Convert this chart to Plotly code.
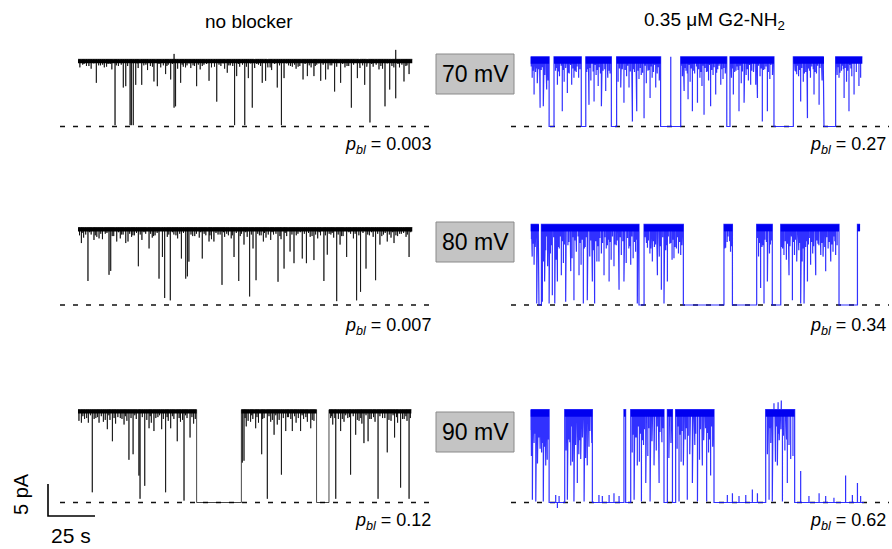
import plotly.graph_objects as go

W, H = 892, 549

# ======================= DATA =======================
voltages = ["70 mV", "80 mV", "90 mV"]
pbl_no_blocker = ["0.003", "0.007", "0.12"]
pbl_g2 = ["0.27", "0.34", "0.62"]
amp_no_blocker = [10.5, 12.1, 14.5]     # unitary current, pA
amp_g2 = [10.9, 12.6, 14.5]             # pA
dur_no_blocker = [177.8, 177.8, 177.3]  # s
dur_g2 = [176.4, 175.2, 177.3]          # s

# ---- no blocker, 70 mV ----
nb70_blocked = []
nb70_spike_t = [9.75, 19.7, 24.1, 25.4, 27.7, 28.4, 29.4, 30.7, 33.9, 40.4, 42.2, 46.6, 49.3, 51.1,
                51.9, 54.6, 63.1, 69.7, 73.8, 79.4, 83.3, 84.4, 88.7, 90.6, 92.7, 98.0, 99.8, 106.0,
                108.2, 109.6, 119.7, 122.0, 125.5, 129.1, 131.7, 136.5, 139.7, 145.4, 148.6, 152.5,
                155.3, 160.1, 163.3, 165.8, 169.0, 173.4, 176.1]
nb70_spike_d = [0.35, 0.98, 0.42, 0.40, 0.98, 0.98, 0.98, 0.38, 0.38, 0.33, 0.40, 0.22, 0.30, 0.72,
                0.70, 0.35, 0.40, 0.32, 0.63, 0.20, 0.98, 0.25, 0.98, 0.28, 0.72, 0.35, 0.32, 0.42,
                0.98, 0.28, 0.30, 0.25, 0.25, 0.32, 0.30, 0.48, 0.35, 0.72, 0.28, 0.38,
                0.94, 0.15, 0.70, 0.45, 0.58, 0.33, 0.22]
nb70_flick_t = [1.0, 2.5, 4.5, 7.0, 12.0, 14.0, 16.0, 18.0, 21.5, 23.0, 32.0, 35.0, 37.0, 38.5,
                44.0, 48.0, 53.0, 56.0, 58.0, 60.0, 62.0, 65.0, 67.0, 71.0, 76.0, 78.0, 81.0, 86.0,
                94.0, 96.0, 101.0, 103.0, 112.0, 114.0, 116.0, 118.0, 124.0, 127.0, 133.0, 135.0,
                142.0, 144.0, 150.0, 154.0, 157.0, 162.0, 167.0, 171.0, 175.0,
                3.2, 5.8, 8.4, 11.0, 13.1, 15.2, 17.1, 20.4, 26.4, 31.5, 36.1, 39.6, 43.1, 45.4,
                47.3, 50.2, 55.4, 57.2, 59.1, 61.2, 64.0, 66.1, 68.4, 72.6, 75.0, 77.2, 80.2, 82.3,
                85.3, 87.5, 89.6, 91.8, 93.6, 95.1, 97.1, 100.6, 102.2, 104.6, 107.2, 111.0, 113.0,
                115.2, 117.1, 120.8, 123.0, 126.2, 128.1, 130.4, 134.1, 137.6, 140.8, 143.1, 146.6,
                149.6, 151.4, 153.6, 156.2, 158.6, 161.1, 164.5, 166.8, 168.0, 170.2, 172.3, 174.4]
nb70_flick_d = [0.12, 0.08, 0.10, 0.14, 0.09, 0.12, 0.07, 0.15, 0.10, 0.08, 0.13, 0.09, 0.16, 0.10,
                0.12, 0.08, 0.14, 0.11, 0.09, 0.13, 0.10, 0.15, 0.08, 0.12, 0.10, 0.14, 0.09, 0.11,
                0.13, 0.08, 0.12, 0.16, 0.09, 0.11, 0.14, 0.10, 0.12, 0.08, 0.15, 0.09,
                0.12, 0.10, 0.13, 0.09, 0.11, 0.14, 0.10, 0.12, 0.09,
                0.07, 0.10, 0.06, 0.09, 0.08, 0.11, 0.07, 0.09, 0.10, 0.06, 0.08, 0.11, 0.07, 0.09,
                0.10, 0.07, 0.08, 0.12, 0.06, 0.09, 0.08, 0.10, 0.07, 0.11, 0.08, 0.06, 0.09, 0.10,
                0.07, 0.08, 0.11, 0.06, 0.09, 0.07, 0.10, 0.08, 0.12, 0.07, 0.09, 0.06, 0.10,
                0.08, 0.11, 0.07, 0.09, 0.10, 0.06, 0.08, 0.09, 0.11, 0.07, 0.10, 0.08,
                0.06, 0.09, 0.11, 0.07, 0.08, 0.10, 0.06, 0.09, 0.12, 0.07, 0.08, 0.10]
nb70_up_t = [51.1, 169.0]
nb70_up_h = [0.08, 0.14]

# ---- no blocker, 80 mV ----
nb80_blocked = []
nb80_spike_t = [1.8, 5.3, 8.5, 11.2, 16.5, 17.4, 20.6, 25.4, 26.6, 32.1, 37.8, 43.1, 44.9, 46.1,
                49.1, 55.0, 57.3, 58.2, 59.0, 66.1, 69.7, 72.3, 76.6, 83.0, 85.5, 88.3, 91.3, 93.1,
                94.7, 98.6, 102.5, 106.4, 109.6, 112.8, 114.9, 119.3, 121.5, 125.5, 130.8, 132.6,
                137.6, 139.4, 142.9, 148.2, 150.3, 153.2, 158.3, 160.6, 164.5, 168.1, 176.1]
nb80_spike_d = [0.20, 0.69, 0.16, 0.14, 0.61, 0.56, 0.18, 0.20, 0.18, 0.50, 0.27, 0.66, 0.38, 0.91,
                0.94, 0.40, 0.66, 0.63, 0.44, 0.40, 0.18, 0.18, 0.74, 0.38, 0.69, 0.22, 0.89, 0.27,
                0.68, 0.18, 0.16, 0.70, 0.53, 0.31, 0.46, 0.40, 0.46, 0.42, 0.69, 0.35,
                0.95, 0.22, 0.38, 0.94, 0.83, 0.53, 0.68, 0.22, 0.18, 0.20, 0.38]
nb80_flick_t = [0.8, 3.0, 7.0, 10.0, 13.0, 14.5, 19.0, 22.5, 24.0, 28.5, 30.0, 34.0, 36.0, 39.5,
                41.0, 47.5, 51.0, 53.0, 61.0, 63.0, 64.5, 68.0, 71.0, 74.5, 78.0, 80.0, 81.5, 87.0,
                90.0, 96.5, 100.0, 104.0, 108.0, 111.0, 117.0, 123.5, 127.5, 129.0, 134.5, 136.0,
                141.0, 145.0, 146.5, 155.0, 157.0, 162.5, 166.5, 170.0, 172.0, 174.5,
                2.2, 4.1, 6.2, 9.2, 12.1, 15.4, 18.2, 21.6, 23.2, 27.5, 29.2, 31.1, 33.1, 35.1,
                38.6, 40.2, 42.1, 48.3, 50.2, 52.1, 54.1, 56.1, 60.1, 62.1, 65.3, 67.1, 70.2, 73.4,
                75.6, 77.4, 79.1, 82.1, 84.2, 86.3, 89.2, 92.2, 95.6, 97.4, 99.2, 101.2, 103.2,
                105.3, 107.4, 110.2, 113.8, 116.1, 118.2, 120.4, 122.6, 124.5, 126.4, 128.3, 131.6,
                133.6, 135.2, 138.4, 140.2, 144.1, 147.4, 149.4, 151.6, 154.1, 156.1, 159.4, 161.6,
                163.4, 165.6, 167.4, 169.1, 171.1, 173.2, 175.2, 177.0]
nb80_flick_d = [0.10, 0.13, 0.09, 0.12, 0.15, 0.08, 0.11, 0.14, 0.09, 0.12, 0.10, 0.16, 0.08, 0.13,
                0.10, 0.12, 0.09, 0.14, 0.11, 0.08, 0.13, 0.10, 0.15, 0.09, 0.12, 0.10, 0.14, 0.08,
                0.12, 0.10, 0.13, 0.09, 0.15, 0.11, 0.08, 0.12, 0.14, 0.10, 0.09, 0.13,
                0.11, 0.08, 0.14, 0.10, 0.12, 0.09, 0.13, 0.11, 0.08, 0.12,
                0.07, 0.09, 0.06, 0.10, 0.08, 0.07, 0.11, 0.06, 0.09, 0.08, 0.10, 0.07, 0.09, 0.06,
                0.08, 0.11, 0.07, 0.09, 0.06, 0.10, 0.08, 0.07, 0.09, 0.11, 0.06, 0.08, 0.10, 0.07,
                0.09, 0.06, 0.08, 0.10, 0.07, 0.11, 0.06, 0.09, 0.08, 0.10, 0.07, 0.09, 0.06,
                0.08, 0.11, 0.07, 0.09, 0.10, 0.06, 0.08, 0.07, 0.11, 0.09, 0.06, 0.10,
                0.08, 0.07, 0.09, 0.11, 0.06, 0.08, 0.10, 0.07, 0.09, 0.06, 0.08, 0.11,
                0.07, 0.09, 0.06, 0.10, 0.08, 0.07, 0.09, 0.06]

# ---- no blocker, 90 mV ----
nb90_blocked = [(63.1, 86.9), (126.9, 133.5)]
nb90_spike_t = [1.8, 7.6, 11.2, 15.6, 18.3, 24.5, 27.1, 29.3, 32.4, 33.0, 35.5, 37.8, 40.4, 44.5,
                46.6, 49.3, 52.8, 56.4, 59.6, 87.4, 88.3, 91.8, 94.5, 97.7, 100.7, 104.3, 106.0,
                108.2, 110.5, 114.0, 118.4, 122.0, 123.8, 134.4, 137.1, 139.7, 145.0, 147.7, 152.1,
                154.3, 159.6, 164.5, 168.4, 171.6, 176.1]
nb90_spike_d = [0.14, 0.89, 0.14, 0.21, 0.34, 0.16, 0.54, 0.48, 0.71, 0.96, 0.82, 0.20, 0.23, 0.21,
                0.89, 0.20, 0.34, 0.98, 0.30, 0.57, 0.55, 0.13, 0.20, 0.48, 0.96, 0.27, 0.16,
                0.70, 0.23, 0.23, 0.23, 0.13, 0.20, 0.09, 0.96, 0.23, 0.70, 0.27, 0.36,
                0.34, 0.96, 0.46, 0.30, 0.84, 0.96]
nb90_flick_t = [0.5, 3.5, 5.5, 9.5, 13.5, 17.0, 20.0, 22.5, 26.0, 31.0, 39.0, 42.5, 48.0, 51.0,
                54.5, 58.0, 61.5, 89.5, 90.5, 93.0, 96.0, 99.0, 102.5, 107.0, 112.0, 116.0, 120.0,
                125.5, 135.5, 138.5, 141.5, 143.5, 149.5, 151.0, 156.0, 158.0, 162.0, 166.5, 170.0,
                173.5, 175.0,
                2.6, 4.6, 6.6, 8.6, 10.4, 12.4, 14.5, 16.4, 19.2, 21.2, 23.4, 25.2, 28.2, 30.2,
                34.2, 36.6, 38.4, 41.4, 43.4, 45.4, 47.4, 50.2, 53.8, 55.6, 57.2, 60.6, 62.4,
                88.9, 92.4, 95.2, 98.2, 101.6, 103.4, 105.2, 109.2, 111.4, 113.2, 115.2, 117.2,
                119.2, 121.2, 124.6, 134.9, 136.6, 140.6, 142.4, 144.4, 146.4, 148.6, 150.4,
                153.2, 155.2, 157.2, 160.6, 163.2, 165.4, 167.6, 169.4, 172.6, 174.4, 176.8]
nb90_flick_d = [0.12, 0.10, 0.14, 0.09, 0.13, 0.11, 0.15, 0.09, 0.12, 0.10, 0.14, 0.08, 0.12, 0.10,
                0.13, 0.09, 0.15, 0.18, 0.12, 0.10, 0.14, 0.09, 0.13, 0.11, 0.08, 0.14, 0.10,
                0.12, 0.16, 0.10, 0.13, 0.09, 0.12, 0.15, 0.10, 0.13, 0.09, 0.12, 0.14,
                0.10, 0.12,
                0.07, 0.09, 0.06, 0.10, 0.08, 0.07, 0.11, 0.06, 0.09, 0.08, 0.10, 0.07, 0.09, 0.06,
                0.08, 0.11, 0.07, 0.09, 0.06, 0.10, 0.08, 0.07, 0.09, 0.11, 0.06, 0.08, 0.10,
                0.09, 0.06, 0.08, 0.10, 0.07, 0.11, 0.06, 0.09, 0.08, 0.10, 0.07, 0.09, 0.06,
                0.08, 0.11, 0.07, 0.09, 0.10, 0.06, 0.08, 0.07, 0.11, 0.09, 0.06, 0.10,
                0.08, 0.07, 0.09, 0.11, 0.06, 0.08, 0.10, 0.07, 0.09, 0.06, 0.08]

# ---- G2-NH2, 70 mV ----
g70_blocked = [(9.8, 12.4), (26.9, 29.3), (42.9, 45.7), (69.1, 79.8), (104.3, 106.0),
               (129.4, 139.7), (156.0, 162.2)]
g70_spike_t = [1.8, 5.0, 6.7, 8.5, 14.2, 16.8, 19.5, 23.0, 31.0, 33.7, 37.6, 39.9, 47.9, 49.6,
               54.1, 56.4, 60.3, 63.5, 66.5, 81.6, 83.7, 86.0, 88.7, 92.2, 95.7, 98.4, 101.1,
               107.8, 110.8, 113.5, 117.0, 120.6, 123.2, 125.9, 141.5, 143.6, 147.2, 150.7,
               153.4, 164.0, 166.7, 169.3, 172.0, 174.6]
g70_spike_d = [0.54, 0.73, 0.71, 0.47, 0.40, 0.78, 0.52, 0.30, 0.69, 0.64, 0.71, 0.49, 0.44, 0.66,
               0.93, 0.78, 0.88, 0.59, 0.44, 0.49, 0.61, 0.78, 0.66, 0.83, 0.71, 0.54, 0.40,
               0.54, 0.78, 0.66, 0.40, 0.59, 0.93, 0.78, 0.25, 0.64, 0.88, 0.54,
               0.69, 0.30, 0.59, 0.78, 0.54, 0.42]
g70_flick_t = [0.8, 2.6, 3.5, 4.2, 7.5, 9.2, 13.2, 15.3, 17.8, 18.6, 20.5, 21.8, 24.2, 25.5, 30.2,
               32.0, 34.8, 35.9, 38.5, 41.0, 42.2, 46.5, 48.7, 51.0, 52.3, 55.2, 57.6, 58.8, 61.5,
               62.4, 64.6, 67.3, 68.4, 80.7, 82.6, 84.8, 87.2, 90.0, 91.1, 93.5, 94.6, 97.0, 99.5,
               102.3, 103.5, 106.8, 109.2, 112.0, 114.6, 115.8, 118.5, 119.7, 122.0, 124.5, 127.2,
               128.6, 140.6, 142.5, 145.0, 146.3, 148.8, 152.0, 155.0, 163.0, 165.3, 168.0, 170.8,
               173.2, 175.5,
               0.3, 1.3, 2.2, 3.0, 3.9, 4.7, 5.6, 6.2, 7.1, 8.1, 8.9, 13.7, 14.7, 16.2, 17.3, 19.0,
               20.0, 21.2, 22.5, 23.6, 24.7, 26.2, 29.8, 30.7, 31.5, 33.2, 34.3, 35.4, 36.4, 37.1,
               38.0, 39.4, 40.6, 41.7, 46.1, 47.2, 48.2, 49.1, 50.3, 51.6, 53.0, 53.7, 54.7, 56.0,
               57.1, 58.3, 59.5, 60.9, 62.0, 63.0, 64.0, 65.3, 66.0, 67.0, 67.8, 68.8, 80.3, 81.2,
               82.1, 83.3, 84.2, 85.4, 86.5, 88.2, 89.3, 90.6, 91.7, 92.8, 94.0, 95.2, 96.3, 97.6,
               98.9, 100.2, 101.6, 102.8, 103.9, 106.5, 107.3, 108.5, 109.8, 110.3, 111.4, 112.6,
               113.9, 115.2, 116.4, 117.6, 118.9, 120.2, 121.2, 122.6, 123.8, 125.2, 126.4, 127.8,
               128.9, 140.2, 141.0, 142.0, 143.1, 144.2, 145.6, 146.9, 147.7, 148.3, 149.5, 150.3,
               151.3, 152.6, 153.9, 154.6, 155.6, 162.7, 163.5, 164.5, 165.8, 166.3, 167.3, 168.6,
               169.8, 170.3, 171.4, 172.5, 173.7, 174.2, 175.0, 176.0]
g70_flick_d = [0.30, 0.22, 0.38, 0.18, 0.26, 0.34, 0.20, 0.28, 0.36, 0.16, 0.24, 0.40, 0.22, 0.30,
               0.18, 0.34, 0.26, 0.42, 0.20, 0.30, 0.24, 0.36, 0.18, 0.28, 0.44, 0.22, 0.32, 0.26,
               0.38, 0.20, 0.30, 0.24, 0.34, 0.28, 0.20, 0.36, 0.24, 0.30, 0.42, 0.22, 0.34, 0.26,
               0.18, 0.32, 0.24, 0.30, 0.20, 0.38, 0.26, 0.34, 0.22, 0.40, 0.28, 0.18, 0.32, 0.26,
               0.20, 0.28, 0.36, 0.22, 0.30, 0.24, 0.34, 0.26, 0.20, 0.36, 0.28, 0.22, 0.30,
               0.14, 0.20, 0.12, 0.17, 0.22, 0.13, 0.19, 0.15, 0.24, 0.12, 0.18, 0.16, 0.21, 0.13,
               0.19, 0.15, 0.23, 0.12, 0.17, 0.20, 0.14, 0.18, 0.22, 0.13, 0.16, 0.21, 0.12, 0.19,
               0.15, 0.24, 0.13, 0.18, 0.16, 0.20, 0.12, 0.17, 0.22, 0.14, 0.19, 0.13, 0.21, 0.15,
               0.18, 0.12, 0.20, 0.16, 0.23, 0.13, 0.17, 0.19, 0.14, 0.22, 0.12, 0.18, 0.15, 0.21,
               0.13, 0.19, 0.16, 0.24, 0.12, 0.17, 0.20, 0.14, 0.18, 0.22, 0.13, 0.16, 0.21, 0.12,
               0.19, 0.15, 0.23, 0.13, 0.18, 0.16, 0.20, 0.12, 0.17, 0.22, 0.14, 0.19, 0.13, 0.21,
               0.15, 0.18, 0.12, 0.20, 0.16, 0.23, 0.13, 0.17, 0.19, 0.14, 0.22, 0.12, 0.18, 0.15,
               0.21, 0.13, 0.19, 0.16, 0.24, 0.12, 0.17, 0.20, 0.14, 0.18, 0.22, 0.13, 0.16, 0.21,
               0.12, 0.19, 0.15, 0.23, 0.13, 0.18, 0.16, 0.20, 0.12, 0.17]
g70_blip_t = [74.5]
g70_blip_h = [1.0]

# ---- G2-NH2, 80 mV ----
g80_blocked = [(4.4, 5.7), (57.6, 60.3), (81.2, 102.8), (107.3, 120.2), (128.5, 133.0),
               (164.0, 173.8)]
g80_spike_t = [1.8, 3.2, 6.2, 7.4, 9.8, 11.5, 12.8, 14.2, 16.3, 18.6, 21.3, 23.0, 25.7, 28.0,
               30.1, 32.8, 34.0, 36.3, 39.0, 41.7, 44.3, 47.0, 49.6, 53.2, 56.7, 62.1, 64.7,
               67.4, 69.5, 70.9, 72.7, 76.2, 79.8, 103.7, 122.3, 124.1, 125.9, 134.7, 137.4,
               139.2, 141.5, 143.6, 145.4, 147.2, 148.9, 151.6, 154.3, 156.9, 159.6, 162.2]
g80_spike_d = [0.50, 0.98, 0.96, 0.71, 0.98, 0.88, 0.98, 0.71, 0.63, 0.96, 0.58, 0.94, 0.63, 0.98,
               0.94, 0.71, 0.98, 0.46, 0.63, 0.71, 0.52, 0.81, 0.71, 0.50, 0.98, 0.29, 0.46,
               0.63, 0.81, 0.98, 0.71, 0.42, 0.38, 0.29, 0.79, 0.98, 0.71, 0.38, 0.63,
               0.94, 0.46, 0.98, 0.98, 0.71, 0.50, 0.63, 0.38, 0.58, 0.46, 0.38]
g80_flick_t = [0.8, 2.4, 6.8, 8.0, 9.0, 10.5, 13.5, 15.2, 17.4, 19.8, 22.0, 24.3, 26.8, 29.0,
               31.4, 33.3, 35.2, 37.6, 40.2, 42.8, 45.5, 48.2, 50.8, 52.2, 54.5, 55.8, 61.2, 63.4,
               65.8, 68.4, 71.8, 74.0, 75.2, 77.5, 78.6, 80.4, 103.2, 104.5, 106.3, 121.2, 123.0,
               127.0, 134.0, 136.0, 138.2, 140.3, 142.6, 144.4, 146.3, 150.0, 152.8, 155.5, 158.2,
               160.8, 163.0,
               0.4, 1.2, 2.0, 2.8, 3.6, 4.0, 6.3, 7.0, 7.8, 8.5, 9.4, 10.1, 11.0, 12.2, 13.1, 14.0,
               14.8, 15.7, 16.8, 17.9, 18.9, 20.3, 21.0, 22.5, 23.5, 24.0, 25.2, 26.2, 27.4, 28.5,
               29.5, 30.5, 31.9, 32.4, 33.8, 34.6, 35.7, 36.8, 38.2, 39.5, 40.8, 41.3, 42.2, 43.5,
               44.8, 46.0, 46.6, 47.6, 49.0, 50.0, 51.5, 52.8, 53.8, 55.2, 56.3, 57.1, 60.8, 61.6,
               62.6, 63.9, 64.3, 65.2, 66.4, 67.0, 68.0, 68.9, 70.2, 71.3, 72.2, 73.2, 74.5, 75.8,
               76.8, 78.1, 79.2, 80.8, 103.5, 105.0, 105.8, 106.8, 120.8, 121.7, 122.7, 123.6,
               124.6, 125.4, 126.2, 127.5, 128.0, 133.5, 134.4, 135.4, 136.5, 137.0, 137.9, 138.7,
               139.8, 140.8, 141.8, 142.2, 143.1, 144.0, 144.9, 145.8, 146.8, 147.7, 148.4, 149.4,
               150.5, 151.2, 152.2, 153.3, 154.0, 154.9, 155.9, 156.4, 157.5, 158.8, 159.2, 160.2,
               161.3, 161.8, 162.7, 163.5, 174.3]
g80_flick_d = [0.40, 0.28, 0.46, 0.32, 0.52, 0.36, 0.44, 0.30, 0.48, 0.26, 0.42, 0.34, 0.50, 0.28,
               0.40, 0.32, 0.46, 0.36, 0.30, 0.44, 0.26, 0.38, 0.48, 0.30, 0.42, 0.34, 0.22, 0.36,
               0.28, 0.40, 0.32, 0.24, 0.44, 0.30, 0.36, 0.26, 0.30, 0.22, 0.34, 0.40, 0.28,
               0.36, 0.30, 0.44, 0.26, 0.38, 0.32, 0.46, 0.28, 0.36, 0.24, 0.40, 0.30, 0.34, 0.26,
               0.18, 0.24, 0.15, 0.21, 0.27, 0.16, 0.23, 0.19, 0.30, 0.15, 0.22, 0.20, 0.26, 0.16,
               0.24, 0.18, 0.28, 0.15, 0.21, 0.25, 0.17, 0.22, 0.27, 0.16, 0.20, 0.26, 0.15, 0.23,
               0.19, 0.30, 0.16, 0.22, 0.20, 0.25, 0.15, 0.21, 0.27, 0.17, 0.23, 0.16, 0.26, 0.19,
               0.22, 0.15, 0.25, 0.20, 0.28, 0.16, 0.21, 0.24, 0.17, 0.27, 0.15, 0.22, 0.19, 0.26,
               0.16, 0.23, 0.20, 0.30, 0.15, 0.21, 0.25, 0.17, 0.22, 0.27, 0.16, 0.20, 0.26, 0.15,
               0.23, 0.19, 0.28, 0.16, 0.22, 0.20, 0.25, 0.15, 0.21, 0.27, 0.17, 0.23, 0.16, 0.26,
               0.19, 0.22, 0.15, 0.25, 0.20, 0.28, 0.16, 0.21, 0.24, 0.17, 0.27, 0.15, 0.22, 0.19,
               0.26, 0.16, 0.23, 0.20, 0.30, 0.15, 0.21, 0.25, 0.17, 0.22, 0.27, 0.16, 0.20, 0.26,
               0.15, 0.23, 0.19, 0.28, 0.16, 0.22, 0.20, 0.25, 0.15, 0.21]

# ---- G2-NH2, 90 mV ----
g90_blocked = [(9.8, 18.1), (32.8, 49.6), (50.5, 53.2), (70.9, 72.7), (75.4, 77.1),
               (97.5, 125.0), (140.4, 178.0)]
g90_spike_t = [0.9, 2.7, 5.0, 6.7, 8.0, 19.5, 21.3, 23.0, 24.8, 26.6, 28.4, 30.1, 55.0, 56.7,
               58.9, 61.2, 63.5, 65.6, 68.3, 78.9, 81.2, 83.3, 86.0, 88.7, 91.3, 93.6, 95.7,
               126.8, 128.5, 131.2, 133.9, 136.5, 138.3]
g90_spike_d = [0.97, 0.99, 0.42, 0.99, 0.60, 0.97, 0.60, 0.99, 0.79, 0.53, 0.99, 0.60, 0.97, 0.60,
               0.99, 0.79, 0.99, 0.60, 0.79, 0.99, 0.60, 0.97, 0.79, 0.99, 0.60, 0.99, 0.71,
               0.97, 0.99, 0.60, 0.99, 0.79, 0.53]
g90_flick_t = [0.4, 1.8, 3.6, 4.3, 5.8, 7.3, 8.8, 18.8, 20.3, 22.2, 23.9, 25.6, 27.5, 29.2, 31.0,
               32.2, 54.0, 55.8, 57.8, 60.0, 62.3, 64.5, 66.8, 69.5, 73.5, 74.6, 77.9, 80.0, 82.2,
               84.6, 87.3, 89.8, 92.4, 94.6, 96.8, 125.9, 127.7, 130.2, 132.6, 135.2, 137.4, 139.5,
               0.2, 1.1, 1.4, 2.2, 3.1, 4.0, 4.7, 5.4, 6.2, 7.0, 7.8, 8.4, 9.3, 18.5, 19.1, 19.9,
               20.8, 21.8, 22.6, 23.4, 24.3, 25.2, 26.1, 27.0, 27.9, 28.8, 29.7, 30.6, 31.5, 32.5,
               53.6, 54.5, 55.4, 56.2, 57.2, 58.4, 59.4, 60.5, 61.6, 62.8, 63.9, 64.9, 65.9, 67.3,
               67.9, 68.8, 69.8, 70.4, 73.1, 73.9, 75.0, 77.5, 78.4, 79.4, 80.5, 81.6, 82.7, 83.8,
               85.0, 86.4, 86.9, 87.8, 88.9, 90.3, 91.0, 92.0, 93.0, 94.1, 95.1, 96.3, 97.1, 125.4,
               126.3, 127.2, 128.0, 128.9, 129.9, 130.7, 131.7, 132.2, 133.1, 134.4, 135.7, 136.1,
               137.0, 137.9, 138.8, 139.9]
g90_flick_d = [0.50, 0.36, 0.58, 0.30, 0.46, 0.40, 0.54, 0.44, 0.32, 0.56, 0.38, 0.48, 0.30, 0.52,
               0.40, 0.34, 0.46, 0.30, 0.56, 0.38, 0.50, 0.34, 0.44, 0.28, 0.52, 0.36, 0.42, 0.56,
               0.32, 0.48, 0.38, 0.54, 0.30, 0.46, 0.40, 0.48, 0.36, 0.56, 0.32, 0.44, 0.38, 0.50,
               0.22, 0.30, 0.18, 0.26, 0.34, 0.20, 0.28, 0.24, 0.36, 0.19, 0.27, 0.23, 0.32, 0.20,
               0.29, 0.22, 0.35, 0.18, 0.26, 0.31, 0.21, 0.27, 0.33, 0.20, 0.25, 0.32, 0.18, 0.28,
               0.23, 0.36, 0.20, 0.27, 0.24, 0.30, 0.18, 0.26, 0.33, 0.21, 0.28, 0.20, 0.32, 0.23,
               0.27, 0.18, 0.30, 0.24, 0.35, 0.20, 0.26, 0.29, 0.21, 0.33, 0.18, 0.27, 0.23, 0.32,
               0.20, 0.28, 0.24, 0.36, 0.18, 0.26, 0.31, 0.21, 0.27, 0.33, 0.20, 0.25, 0.32, 0.18,
               0.28, 0.23, 0.35, 0.20, 0.27, 0.24, 0.30, 0.18, 0.26, 0.33, 0.21, 0.28, 0.20, 0.32]
g90_up_t = [129.4, 131.6, 133.3]
g90_up_h = [0.07, 0.08, 0.10]
g90_blip_t = [13.3, 14.2, 15.1, 36.3, 38.1, 41.7, 44.3, 47.0, 104.6, 107.3, 110.8, 114.4, 117.9,
              120.6, 143.6, 148.0, 153.4, 156.9, 161.3, 167.5, 171.1, 173.8, 175.5]
g90_blip_h = [0.08, -0.06, 0.07, 0.08, 0.07, 0.08, 0.10, 0.07, 0.08, 0.10, 0.07, 0.08, 0.14,
              0.10, 0.34, 0.07, 0.10, 0.07, 0.05, 0.29, 0.08, 0.21, 0.07]

scale_bar_s = 25
scale_bar_pA = 5

# ======================= LAYOUT CONSTANTS (pixels) =======================
PX_PER_S = 1.88
PX_PER_PA = 6.4
col_start_px = [78.0, 530.7]
col_dom_px = [(56, 440), (506, 892)]
dash_px = [(60, 434), (511, 889)]
row_closed_px = [126.5, 305.0, 502.5]
row_dom_px = [(38, 145), (205, 318), (392, 515)]


def px2x(px):
    return px / W


def px2y(py):
    return 1 - py / H


def build_path(T, A, blocked, sp_t, sp_d, up_t=(), up_h=(), bl_t=(), bl_h=()):
    ev = []
    for a, b in blocked:
        ev.append((a, 0, None))
        ev.append((b, 1, None))
    for t, d in zip(sp_t, sp_d):
        ev.append((t, 2, d))
    for t, h in zip(up_t, up_h):
        ev.append((t, 3, h))
    for t, h in zip(bl_t, bl_h):
        ev.append((t, 4, h))
    ev.sort(key=lambda e: (e[0], e[1]))
    is_open = True
    xs, ys = [0.0], [A]
    for t, k, v in ev:
        if t >= T:
            break
        lvl = A if is_open else 0.0
        if k == 0:
            xs += [t, t]
            ys += [A, 0.0]
            is_open = False
        elif k == 1:
            xs += [t, t]
            ys += [0.0, A]
            is_open = True
        elif k == 2:
            if not is_open:
                continue
            xs += [t, t, t]
            ys += [lvl, lvl - A * v, lvl]
        else:
            xs += [t, t, t]
            ys += [lvl, lvl + A * v, lvl]
    xs.append(T)
    ys.append(A if is_open else 0.0)
    return xs, ys


def open_intervals(T, blocked):
    out, s = [], 0.0
    for a, b in sorted(blocked):
        if a > s:
            out.append((s, min(a, T)))
        s = b
    if s < T:
        out.append((s, T))
    return out


traces_def = [
    (0, 0, dur_no_blocker[0], amp_no_blocker[0], nb70_blocked, nb70_spike_t, nb70_spike_d,
     nb70_flick_t, nb70_flick_d, nb70_up_t, nb70_up_h, [], []),
    (0, 1, dur_no_blocker[1], amp_no_blocker[1], nb80_blocked, nb80_spike_t, nb80_spike_d,
     nb80_flick_t, nb80_flick_d, [], [], [], []),
    (0, 2, dur_no_blocker[2], amp_no_blocker[2], nb90_blocked, nb90_spike_t, nb90_spike_d,
     nb90_flick_t, nb90_flick_d, [], [], [], []),
    (1, 0, dur_g2[0], amp_g2[0], g70_blocked, g70_spike_t, g70_spike_d,
     g70_flick_t, g70_flick_d, [], [], g70_blip_t, g70_blip_h),
    (1, 1, dur_g2[1], amp_g2[1], g80_blocked, g80_spike_t, g80_spike_d,
     g80_flick_t, g80_flick_d, [], [], [], []),
    (1, 2, dur_g2[2], amp_g2[2], g90_blocked, g90_spike_t, g90_spike_d,
     g90_flick_t, g90_flick_d, g90_up_t, g90_up_h, g90_blip_t, g90_blip_h),
]

fig = go.Figure()
layout = dict(width=W, height=H, margin=dict(l=0, r=0, t=0, b=0),
              paper_bgcolor="white", plot_bgcolor="rgba(0,0,0,0)", showlegend=False)

for i, (col, row, T, A, blocked, sp_t, sp_d, fl_t, fl_d, up_t, up_h, bl_t, bl_h) in enumerate(traces_def):
    n = i + 1
    xa = "x" if n == 1 else f"x{n}"
    ya = "y" if n == 1 else f"y{n}"
    d0, d1 = col_dom_px[col]
    st = col_start_px[col]
    r0, r1 = row_dom_px[row]
    cl = row_closed_px[row]
    layout["xaxis" if n == 1 else f"xaxis{n}"] = dict(
        domain=[px2x(d0), px2x(d1)], range=[(d0 - st) / PX_PER_S, (d1 - st) / PX_PER_S],
        visible=False, anchor=ya)
    layout["yaxis" if n == 1 else f"yaxis{n}"] = dict(
        domain=[px2y(r1), px2y(r0)], range=[-(r1 - cl) / PX_PER_PA, (cl - r0) / PX_PER_PA],
        visible=False, anchor=xa)

    color = "#000000" if col == 0 else "#0000f0"
    spike_col = "rgba(0,0,0,0.72)" if col == 0 else "rgba(20,20,255,0.88)"
    dp0, dp1 = dash_px[col]
    fig.add_trace(go.Scatter(x=[(dp0 - st) / PX_PER_S, (dp1 - st) / PX_PER_S], y=[0, 0],
                             mode="lines", line=dict(color="#111111", width=1.3, dash="5px,8px"),
                             xaxis=xa, yaxis=ya, hoverinfo="skip"))
    xs, ys = build_path(T, A, blocked, list(sp_t) + list(fl_t), list(sp_d) + list(fl_d),
                        up_t, up_h, bl_t, bl_h)
    fig.add_trace(go.Scatter(x=xs, y=ys, mode="lines",
                             line=dict(color=spike_col, width=1 if col == 0 else 1.2),
                             xaxis=xa, yaxis=ya, hoverinfo="skip"))
    bx, by = [], []
    band_w = 4 if col == 0 else 7
    band_off = 0.3 if col == 0 else 0.55
    for a, b in open_intervals(T, blocked):
        bx += [a, b, None]
        by += [A - band_off, A - band_off, None]
    fig.add_trace(go.Scatter(x=bx, y=by, mode="lines", line=dict(color=color, width=band_w),
                             xaxis=xa, yaxis=ya, hoverinfo="skip"))

# scale bar axes
sb_x0, sb_y0 = 48.0, 516.0
layout["xaxis7"] = dict(domain=[px2x(40), px2x(110)],
                        range=[(40 - sb_x0) / PX_PER_S, (110 - sb_x0) / PX_PER_S],
                        visible=False, anchor="y7")
layout["yaxis7"] = dict(domain=[px2y(530), px2y(470)],
                        range=[-(530 - sb_y0) / PX_PER_PA, (sb_y0 - 470) / PX_PER_PA],
                        visible=False, anchor="x7")
fig.add_trace(go.Scatter(x=[0, 0, scale_bar_s], y=[scale_bar_pA, 0, 0], mode="lines",
                         line=dict(color="black", width=1.6), xaxis="x7", yaxis="y7",
                         hoverinfo="skip"))

FONT = "Arial, Liberation Sans, sans-serif"


def label(text, px, py, size, xanchor="center", angle=0):
    return dict(text=text, x=px2x(px), y=px2y(py), xref="paper", yref="paper",
                xanchor=xanchor, yanchor="middle", showarrow=False, textangle=angle,
                borderpad=0, font=dict(family=FONT, size=size, color="black"))


ann = []
shapes = []
ann.append(label("no blocker", 249, 22, 19))
ann.append(label("0.35 \u03bcM G2-NH<sub>2</sub>", 714, 21, 19))
box_px = [(54, 94), (222, 262), (412, 452)]
pbl_y_px = [145, 326, 521]
for r in range(3):
    y0, y1 = box_px[r]
    shapes.append(dict(type="rect", xref="paper", yref="paper", x0=px2x(436), x1=px2x(514),
                       y0=px2y(y1), y1=px2y(y0), fillcolor="#c4c4c4",
                       line=dict(color="#8a8a8a", width=1)))
    ann.append(label(voltages[r], 475, (y0 + y1) / 2, 23))
    ann.append(label("<i>p</i><sub><i>bl</i></sub> = " + pbl_no_blocker[r], 432, pbl_y_px[r], 18,
                     xanchor="right"))
    ann.append(label("<i>p</i><sub><i>bl</i></sub> = " + pbl_g2[r], 887, pbl_y_px[r], 18,
                     xanchor="right"))
ann.append(label(f"{scale_bar_pA} pA", 21, 494, 20, angle=-90))
ann.append(label(f"{scale_bar_s} s", 71, 535, 21))

layout["annotations"] = ann
layout["shapes"] = shapes
fig.update_layout(**layout)
fig.write_html("out.html")
